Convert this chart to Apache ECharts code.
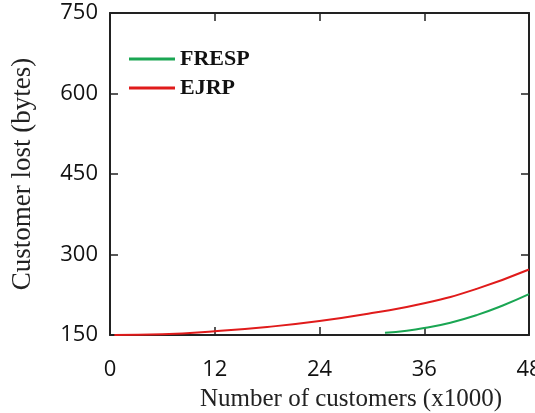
<!DOCTYPE html>
<html><head><meta charset="utf-8">
<script src="https://cdn.jsdelivr.net/npm/echarts@6/dist/echarts.min.js"></script>
<style>html,body{margin:0;padding:0;background:#fff}#c{width:535px;height:413px}</style>
</head><body><div id="c"></div>
<script>
var xTicks = [0, 12, 24, 36, 48];
var yTicks = [150, 300, 450, 600, 750];
var fresp = [[31.5,154],[34,158],[36,163],[39,173],[42,187],[45,205],[48,226]];
var ejrp = [[0.5,150],[6,151.5],[12,157],[18,165],[24,176],[30,191],[36,209],[42,236],[48,272]];
var chart = echarts.init(document.getElementById('c'));
var axLine = {show:true, onZero:false, lineStyle:{color:'#222', width:2}};
var tick = {show:true, inside:true, length:8, lineStyle:{color:'#222', width:1.5}};
chart.setOption({
  animation:false,
  grid:{left:110, top:13, right:6, bottom:78, containLabel:false, outerBoundsMode:'none'},
  legend:{
    left:124, top:43, orient:'vertical', itemWidth:46, itemHeight:3, itemGap:7,
    icon:'rect',
    textStyle:{fontFamily:'Liberation Serif', fontWeight:'bold', fontSize:22, color:'#111'},
    data:['FRESP','EJRP']
  },
  xAxis:[{
    type:'value', min:0, max:48, interval:12, position:'bottom',
    axisLine:axLine, axisTick:tick, splitLine:{show:false},
    axisLabel:{fontFamily:'Open Sans', fontSize:22, color:'#111', margin:24},
    name:'Number of customers (x1000)', nameLocation:'middle', nameGap:52,
    nameTextStyle:{fontFamily:'Liberation Serif', fontSize:25, color:'#222', padding:[0,0,0,63]}
  },{
    type:'value', min:0, max:48, interval:12, position:'top',
    axisLine:axLine, axisTick:tick, axisLabel:{show:false}, splitLine:{show:false}
  }],
  yAxis:[{
    type:'value', min:150, max:750, interval:150, position:'left',
    axisLine:axLine, axisTick:tick, splitLine:{show:false},
    axisLabel:{fontFamily:'Open Sans', fontSize:22, color:'#111', margin:12},
    name:'Customer lost (bytes)', nameLocation:'middle', nameGap:74,
    nameTextStyle:{fontFamily:'Liberation Serif', fontSize:27, color:'#222'}
  },{
    type:'value', min:150, max:750, interval:150, position:'right',
    axisLine:axLine, axisTick:tick, axisLabel:{show:false}, splitLine:{show:false}
  }],
  series:[
    {name:'FRESP', type:'line', smooth:true, symbol:'none', data:fresp, color:'#1aa653', lineStyle:{width:2}},
    {name:'EJRP', type:'line', smooth:true, symbol:'none', data:ejrp, color:'#e01b1b', lineStyle:{width:2}}
  ]
});
</script></body></html>
